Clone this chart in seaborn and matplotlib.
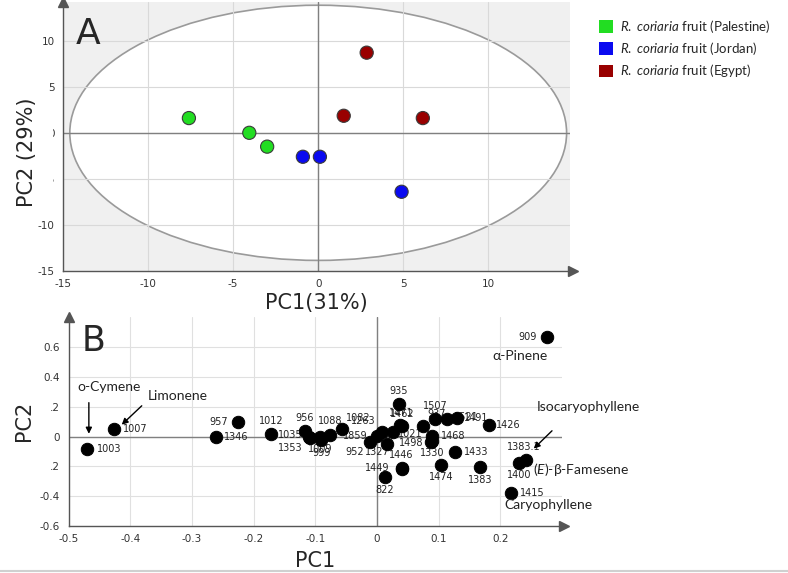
import matplotlib
matplotlib.use("Agg")
import matplotlib.pyplot as plt
import seaborn as sns
import numpy as np
import pandas as pd
from matplotlib.patches import Ellipse, Patch, Rectangle
from matplotlib.lines import Line2D
from matplotlib.ticker import MultipleLocator

# ---- panel A: PCA scores of the nine fruit samples ----
origins = ["Palestine", "Palestine", "Palestine",
           "Jordan", "Jordan", "Jordan",
           "Egypt", "Egypt", "Egypt"]
score_pc1 = [-7.6, -4.05, -3.0, -0.9, 0.1, 4.9, 2.85, 1.5, 6.15]
score_pc2 = [1.6, 0.0, -1.5, -2.6, -2.6, -6.4, 8.7, 1.85, 1.6]
origin_colors = {"Palestine": "#22dd22", "Jordan": "#0a0af0", "Egypt": "#990000"}
# Hotelling T2 ellipse half-axes
ellipse_pc1 = 14.6
ellipse_pc2 = 13.85

# ---- panel B: loadings (retention index labels) ----
loading_labels = ["1003", "1007", "1346", "957", "1012", "1035", "1353", "956",
                  "1009", "999", "1088", "1082", "952", "1859", "1263", "1327",
                  "1021", "1471", "1462", "935", "937", "1507", "1521", "1491",
                  "1426", "1468", "1330", "1498", "1433", "1446", "1449", "822",
                  "1474", "1383", "1400", "1383.1", "1415", "909"]
loading_pc1 = [-0.470, -0.427, -0.261, -0.225, -0.171, -0.110, -0.108, -0.117,
               -0.092, -0.090, -0.076, -0.057, -0.011, 0.000, 0.008, 0.016,
               0.026, 0.040, 0.038, 0.035, 0.075, 0.094, 0.113, 0.129,
               0.182, 0.090, 0.090, 0.088, 0.126, 0.040, 0.041, 0.013,
               0.104, 0.167, 0.231, 0.241, 0.217, 0.275]
loading_pc2 = [-0.083, 0.052, 0.000, 0.096, 0.018, -0.005, -0.012, 0.040,
               -0.005, -0.025, 0.011, 0.052, -0.038, 0.002, 0.029, -0.049,
               0.029, 0.069, 0.077, 0.220, 0.074, 0.119, 0.119, 0.126,
               0.081, 0.007, -0.032, -0.036, -0.106, -0.218, -0.214, -0.274,
               -0.191, -0.207, -0.180, -0.155, -0.382, 0.669]
# label placement (pixel offsets from the dot, alignment)
label_offsets = [(10, 0, "left"), (9, 0, "left"), (8, 0, "left"), (-10, 0, "right"),
                 (0, 13, "center"), (-7, 2, "right"), (-8, -10, "right"), (0, 13, "center"),
                 (0, -12, "center"), (0, -13, "center"), (0, 14, "center"), (16, 11, "center"),
                 (-15, -10, "center"), (-22, 0, "center"), (-19, 11, "center"), (-9, -8, "center"),
                 (5, -2, "left"), (0, 13, "center"), (2, 11, "center"), (0, 13, "center"),
                 (13, 12, "center"), (0, 13, "center"), (20, 2, "center"), (20, 0, "center"),
                 (7, 0, "left"), (8, 0, "left"), (0, -12, "center"), (-20, -1, "center"),
                 (9, 0, "left"), (0, 14, "center"), (-13, 0, "right"), (0, -13, "center"),
                 (0, -12, "center"), (0, -13, "center"), (0, -12, "center"), (-2, 13, "center"),
                 (9, 0, "left"), (-10, 0, "right")]

compound_names = ["o-Cymene", "Limonene", "\u03b1-Pinene", "Isocaryophyllene",
                  "($\\it{E}$)-\u03b2-Famesene", "Caryophyllene"]
compound_text_pos = [(-0.486, 0.332, "left"), (-0.371, 0.271, "left"), (0.232, 0.545, "center"),
                     (0.259, 0.202, "left"), (0.253, -0.222, "left"), (0.207, -0.458, "left")]
compound_arrows = [(-0.467, 0.247, -0.467, 0.0), (-0.378, 0.220, -0.417, 0.067),
                   (0.287, 0.052, 0.251, -0.094)]

sns.set_style("white")
plt.rcParams["font.family"] = ["DejaVu Sans"]
plt.rcParams["axes.unicode_minus"] = False
plt.rcParams["mathtext.fontset"] = "custom"
plt.rcParams["mathtext.it"] = "Lato:italic"
plt.rcParams["mathtext.rm"] = "Lato"

W, H = 788, 573
fig = plt.figure(figsize=(W / 100, H / 100), dpi=100)
axA = fig.add_axes([63 / W, 1 - 271 / H, 507 / W, 269 / H])
axB = fig.add_axes([68.5 / W, 1 - 525.7 / H, 493.5 / W, 208.7 / H])

axis_grey = "#555555"
tick_kw = dict(labelsize=7.5, labelcolor="#333333", colors=axis_grey)


def style_axes(ax):
    for side in ("top", "right"):
        ax.spines[side].set_visible(False)
    for side in ("left", "bottom"):
        ax.spines[side].set_color(axis_grey)
        ax.spines[side].set_linewidth(1.0)
    ax.tick_params(which="major", length=4, width=0.8, pad=2, **tick_kw)
    ax.tick_params(which="minor", length=2.5, width=0.8, colors=axis_grey)
    ax.plot(1.005, 0, ">", color=axis_grey, ms=7, transform=ax.transAxes, clip_on=False)
    ax.plot(0, 1.0, "^", color=axis_grey, ms=7, transform=ax.transAxes, clip_on=False)
    ax.axhline(0, color="#808080", lw=1.0, zorder=1.6)
    ax.axvline(0, color="#808080", lw=1.0, zorder=1.6)


# ---------------- panel A ----------------
scores = pd.DataFrame({"PC1": score_pc1, "PC2": score_pc2, "origin": origins})
axA.set_facecolor("#f0f0f0")
axA.add_patch(Ellipse((0, 0), 2 * ellipse_pc1, 2 * ellipse_pc2, facecolor="white",
                      edgecolor="#9a9a9a", lw=1.2, zorder=1))
sns.scatterplot(data=scores, x="PC1", y="PC2", hue="origin", palette=origin_colors,
                s=90, edgecolor="#3a3a3a", linewidth=0.8, legend=False, ax=axA, zorder=3)
axA.set_xlim(-15, 14.8)
axA.set_ylim(-15, 14.2)
axA.set_xticks([-15, -10, -5, 0, 5, 10])
axA.set_yticks([-15, -10, -5, 0, 5, 10])
axA.xaxis.set_minor_locator(MultipleLocator(2.5))
axA.yaxis.set_minor_locator(MultipleLocator(2.5))
axA.set_axisbelow("line")
axA.grid(True, which="major", color="#d9d9d9", lw=0.8)
style_axes(axA)
axA.set_xlabel("PC1(31%)", fontsize=15, labelpad=3)
axA.set_ylabel("")
# the y label's box hides most of the 0 / -5 tick labels
axA.add_patch(Rectangle((8 / W, 1 - 210 / H), 45 / W, 113 / H, transform=fig.transFigure,
                        facecolor="white", edgecolor="none", clip_on=False, zorder=2.6))
axA.text(27 / W, 1 - 152 / H, "PC2 (29%)", transform=fig.transFigure, rotation=90,
         ha="center", va="center", fontsize=15, zorder=2.7, clip_on=False)
axA.text(0.05, 0.88, "A", transform=axA.transAxes, fontsize=26, ha="center", va="center")

handles = [Patch(facecolor=origin_colors[o], edgecolor="none") for o in origin_colors]
labels = ["$\\it{R.\\ coriaria}$ fruit (%s)" % o for o in origin_colors]
fig.legend(handles, labels, loc="upper left", bbox_to_anchor=(587 / W, 1 - 6 / H),
           frameon=False, prop={"family": ["Lato", "DejaVu Sans"], "size": 9.5},
           handlelength=1.1, handleheight=1.1, handletextpad=0.5, labelspacing=0.4)

# ---------------- panel B ----------------
sns.scatterplot(x=loading_pc1, y=loading_pc2, color="black", s=80, edgecolor="black",
                ax=axB, zorder=3)
for lx, ly, lab, (dx, dy, ha) in zip(loading_pc1, loading_pc2, loading_labels, label_offsets):
    axB.annotate(lab, (lx, ly), xytext=(dx, dy), textcoords="offset pixels",
                 ha=ha, va="center", fontsize=7, color="#222222", zorder=2)
for name, (tx, ty, ha) in zip(compound_names, compound_text_pos):
    axB.text(tx, ty, name, ha=ha, va="center", fontsize=10, color="#222222",
             family=["Lato", "DejaVu Sans"], zorder=4)
for x0, y0, x1, y1 in compound_arrows:
    axB.annotate("", xy=(x1, y1), xytext=(x0, y0),
                 arrowprops=dict(arrowstyle="-|>", color="black", lw=1.0, mutation_scale=9))
axB.set_xlim(-0.5, 0.3)
axB.set_ylim(-0.6, 0.805)
axB.set_xticks([-0.5, -0.4, -0.3, -0.2, -0.1, 0, 0.1, 0.2])
axB.set_xticklabels(["-0.5", "-0.4", "-0.3", "-0.2", "-0.1", "0", "0.1", "0.2"])
axB.set_yticks([-0.6, -0.4, -0.2, 0, 0.2, 0.4, 0.6])
axB.set_yticklabels(["-0.6", "-0.4", ".2", "0", ".2", "0.4", "0.6"])
axB.xaxis.set_minor_locator(MultipleLocator(0.05))
axB.yaxis.set_minor_locator(MultipleLocator(0.1))
axB.set_axisbelow("line")
axB.grid(True, which="major", color="#e0e0e0", lw=0.8)
style_axes(axB)
axB.set_xlabel("PC1", fontsize=15, labelpad=5)
axB.set_ylabel("PC2", fontsize=15, labelpad=4)
axB.text(0.05, 0.885, "B", transform=axB.transAxes, fontsize=25, ha="center", va="center")

fig.add_artist(Line2D([0, 1], [1 - 571 / H, 1 - 571 / H], color="#d0d0d0", lw=1.5))

fig.savefig("out.png", dpi=100)
plt.close(fig)
